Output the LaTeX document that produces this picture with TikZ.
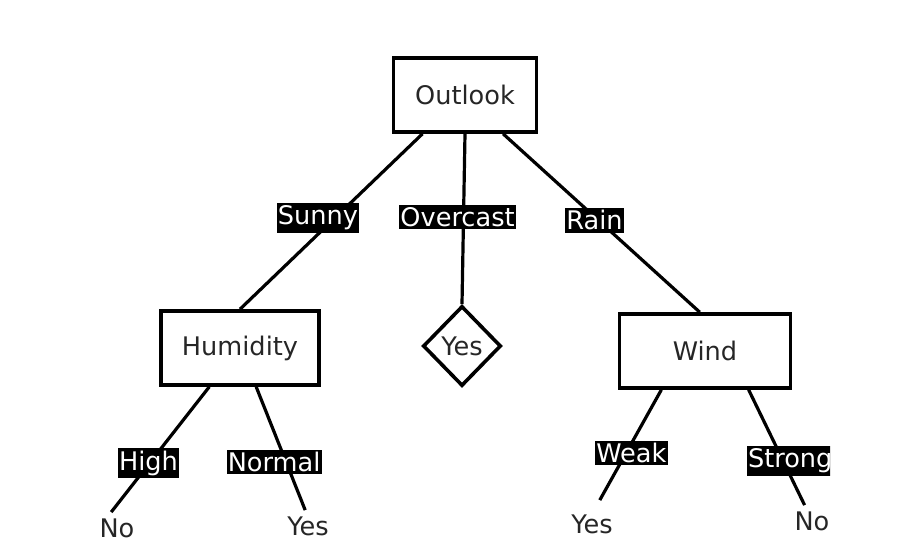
\documentclass[tikz,border=0pt]{standalone}
\usepackage{fontspec}
\setmainfont{DejaVu Sans}
\usetikzlibrary{shapes.geometric,calc}
\definecolor{ink}{HTML}{262626}

\begin{document}
\begin{tikzpicture}[x=0.5pt, y=-0.5pt, inner sep=1pt, font=\fontsize{12.8}{15}\selectfont,
   box/.style={draw, line width=1.8pt, minimum height=37pt, text=ink},
   yesno/.style={draw, diamond, line width=1.8pt, minimum width=39pt, minimum height=40pt, inner sep=0pt, text=ink},
   leaf/.style={inner sep=3pt, text=ink},
   edge/.style={line width=1.6pt},
   lab/.style={fill=black, text=white, inner xsep=0.6pt, inner ysep=1.2pt}
   ]
   \useasboundingbox (0,0) rectangle (912,558);
   \begin{scope}
   \clip (0,0) rectangle (830,558);

   \path (465,95) node[box, minimum width=71.5pt] (outlook) {Outlook}
   (240,348) node[box, minimum width=79pt] (humidity) {Humidity}
   (462,346) node[yesno] (overcastyes) {Yes}
   (705,351) node[box, minimum width=85.5pt] (wind) {Wind};

   \path (117,528) node[leaf] (highno) {No}
   (308,526) node[leaf] (normalyes) {Yes}
   (592,524) node[leaf] (weakyes) {Yes}
   (812,521) node[leaf] (strongno) {No};

   % first level
   \draw[edge] ($(outlook.south west)!0.21!(outlook.south east)$) -- node[lab, pos=0.48, xshift=-8.5pt] {Sunny} (humidity.north);
   \draw[edge] (outlook.south) -- node[lab, pos=0.49, xshift=-3pt] {Overcast} (overcastyes.north);
   \draw[edge] ($(outlook.south west)!0.76!(outlook.south east)$) -- node[lab, pos=0.49, xshift=-2.5pt, yshift=0.5pt] {Rain} ($(wind.north west)!0.47!(wind.north east)$);

   % second level
   \draw[edge] ($(humidity.south west)!0.31!(humidity.south east)$) -- node[lab, pos=0.6, xshift=-1pt, yshift=-0.5pt] {High} (highno.110);
   \draw[edge] ($(humidity.south west)!0.6!(humidity.south east)$) -- node[lab, pos=0.61, xshift=-6pt] {Normal} (normalyes.100);
   \draw[edge] ($(wind.south west)!0.25!(wind.south east)$) -- node[lab, pos=0.6, xshift=3.5pt, yshift=1.5pt] {Weak} ($(weakyes.70)+(2,-8)$);
   \draw[edge] ($(wind.south west)!0.75!(wind.south east)$) -- node[lab, pos=0.6, xshift=4pt, yshift=-1pt] {Strong} (strongno.115);
   \end{scope}
\end{tikzpicture}
\end{document}
